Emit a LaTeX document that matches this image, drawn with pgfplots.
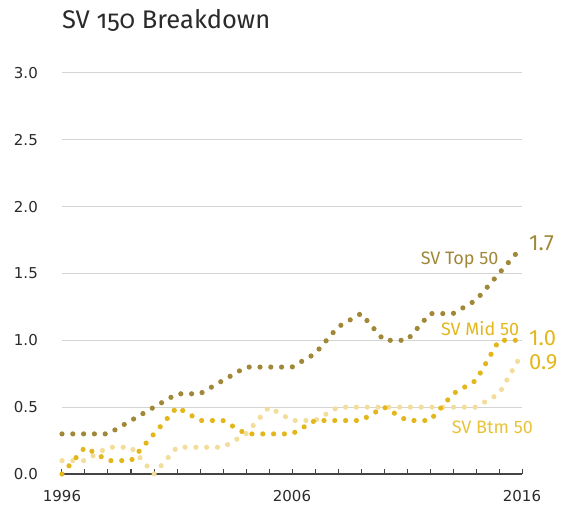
\documentclass[border=0pt]{standalone}
\usepackage{pgfplots}
\pgfplotsset{compat=1.18}
\usepackage{fontspec}
\setmainfont{Fira Sans}
\newfontfamily\titlefont[Numbers=OldStyle]{Fira Sans}
\newfontfamily\tickfont{DejaVu Sans}

\definecolor{topc}{HTML}{A08838}
\definecolor{midc}{HTML}{E3B71C}
\definecolor{btmc}{HTML}{F3DD9B}
\definecolor{btmlab}{HTML}{E8C33A}
\definecolor{gridc}{HTML}{D4D4D4}
\definecolor{axc}{HTML}{444444}
\definecolor{txt}{HTML}{2A2A2A}

\begin{document}
\begin{tikzpicture}
\useasboundingbox (-62pt,-34pt) rectangle (503pt,474pt);
\begin{axis}[
  at={(0,0)}, anchor=south west,
  scale only axis, width=460pt, height=401pt,
  xmin=1996, xmax=2016, ymin=0, ymax=3,
  clip=false,
  axis lines*=left,
  y axis line style={draw=none},
  x axis line style={draw=axc, line width=1.3pt},
  xtick={1996,2006,2016}, minor x tick num=9,
  ytick={0,0.5,...,3},
  tick align=inside,
  major tick length=5pt, minor tick length=5pt,
  xtick style={draw=axc, line width=1pt},
  minor x tick style={draw=axc, line width=1pt},
  ytick style={draw=none},
  ymajorgrids, grid style={draw=gridc, line width=1pt},
  /pgf/number format/assume math mode=true,
  /pgf/number format/1000 sep={},
  ticklabel style={font=\fontsize{15}{18}\tickfont, text=txt, inner sep=0pt},
  yticklabel style={anchor=east, xshift=-24pt,
    /pgf/number format/.cd, fixed, fixed zerofill, precision=1},
  xticklabel style={anchor=north, yshift=-16pt},
]
% SV Btm 50
\addplot[btmc, line width=5.2pt, line cap=round, dash pattern=on 0pt off 10.8pt] coordinates {
(1996,0.1) (1997,0.1) (1998,0.2) (1999,0.2) (2000,0.0) (2001,0.2) (2002,0.2)
(2003,0.2) (2004,0.3) (2005,0.5) (2006,0.4) (2007,0.4) (2008,0.5) (2009,0.5)
(2010,0.5) (2011,0.5) (2012,0.5) (2013,0.5) (2014,0.5) (2015,0.6) (2016,0.9)};
% SV Mid 50
\addplot[midc, line width=5.2pt, line cap=round, dash pattern=on 0pt off 10.8pt] coordinates {
(1996,0.0) (1997,0.2) (1998,0.1) (1999,0.1) (2000,0.3) (2001,0.5) (2002,0.4)
(2003,0.4) (2004,0.3) (2005,0.3) (2006,0.3) (2007,0.4) (2008,0.4) (2009,0.4)
(2010,0.5) (2011,0.4) (2012,0.4) (2013,0.6) (2014,0.7) (2015,1.0) (2016,1.0)};
% SV Top 50
\addplot[topc, line width=5.2pt, line cap=round, dash pattern=on 0pt off 10.8pt] coordinates {
(1996,0.3) (1997,0.3) (1998,0.3) (1999,0.4) (2000,0.5) (2001,0.6) (2002,0.6)
(2003,0.7) (2004,0.8) (2005,0.8) (2006,0.8) (2007,0.9) (2008,1.1) (2009,1.2)
(2010,1.0) (2011,1.0) (2012,1.2) (2013,1.2) (2014,1.3) (2015,1.5) (2016,1.7)};
\end{axis}
\node[anchor=base west, inner sep=0pt, text=txt, font=\fontsize{25.5}{29}\titlefont] at (0pt,445.7pt) {SV 150 Breakdown};
\node[anchor=base west, inner sep=0pt, text=topc, font=\fontsize{18}{21}\selectfont] at (358.7pt,209.7pt) {SV Top 50};
\node[anchor=base west, inner sep=0pt, text=midc, font=\fontsize{18}{21}\selectfont] at (379pt,138pt) {SV Mid 50};
\node[anchor=base west, inner sep=0pt, text=btmlab, font=\fontsize{18}{21}\selectfont] at (389.7pt,40.7pt) {SV Btm 50};
\node[anchor=base west, inner sep=0pt, text=topc, font=\fontsize{22}{26}\selectfont] at (467pt,223.3pt) {1.7};
\node[anchor=base west, inner sep=0pt, text=midc, font=\fontsize{22}{26}\selectfont] at (467pt,128.3pt) {1.0};
\node[anchor=base west, inner sep=0pt, text=midc, font=\fontsize{22}{26}\selectfont] at (467pt,104.7pt) {0.9};
\end{tikzpicture}
\end{document}
